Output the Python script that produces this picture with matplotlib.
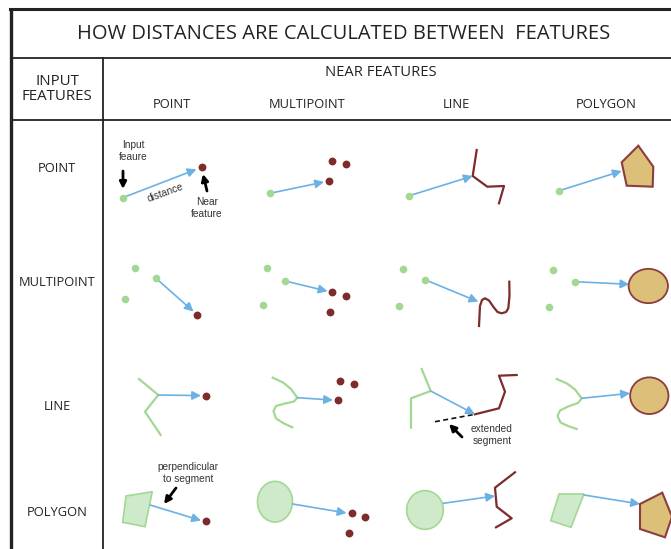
import matplotlib.pyplot as plt
from matplotlib.patches import Polygon, Ellipse

""" textos """
title = 'HOW DISTANCES ARE CALCULATED BETWEEN  FEATURES'
col_labels = ['POINT', 'MULTIPOINT', 'LINE', 'POLYGON']
row_labels = ['POINT', 'MULTIPOINT', 'LINE', 'POLYGON']
col_x = [172, 307, 456, 606]
row_y = [168, 282, 406, 512]

""" geometría (coordenadas en pixeles de la imagen) """
green_points = [(122.7, 197.7), (270, 193.3), (409.3, 195.7), (559.3, 190.7),
                (135, 267.7), (156, 278.3), (125, 299),
                (267.3, 268.3), (285.3, 281), (262.7, 305),
                (403.3, 269), (425, 279.7), (399, 305.7),
                (552.7, 270.3), (575, 281.7), (549, 307.3)]
red_points = [(201.7, 167.3), (329, 181), (331.7, 161), (345.7, 164.3),
              (197.3, 315), (332.3, 292.3), (346, 295.7), (329.7, 312.3),
              (206, 395.7), (340, 380.7), (354, 383.7), (337.7, 400.3),
              (206, 521), (351.7, 513.3), (365, 516.7), (349, 533.3)]
# flechas de distancia: (inicio, fin)
dist_arrows = [((122.7, 197.7), (196.5, 169.3)), ((270, 193.3), (324, 182)),
               ((409.3, 195.7), (472.7, 176)), ((559.3, 190.7), (621.7, 171)),
               ((156, 278.3), (193.5, 311.5)), ((285.3, 281), (327.5, 291.2)),
               ((425, 279.7), (478.3, 301.7)), ((575, 281.7), (629.3, 284.3)),
               ((158.3, 395), (201, 395.6)), ((297.3, 397.7), (333, 400.1)),
               ((430.7, 391), (475, 414.3)), ((581.7, 398.3), (630, 393.3)),
               ((150, 505), (201, 520.5)), ((292.7, 504), (346.5, 513)),
               ((443.3, 503.3), (495, 496)), ((584, 495), (640, 504))]
red_lines = [
    [(476.7, 150), (472.7, 176), (487.3, 186.7), (504, 186), (499, 203.3)],
    [(479, 326), (480, 306), (482, 300), (485, 298.3), (489, 300.5), (493.3, 306.7),
     (497.5, 312), (501.7, 313.3), (506, 312), (508.3, 308.3), (509.5, 296), (509.3, 281.7)],
    [(475, 414.3), (499, 408.3), (505, 391.7), (499, 375.7), (516.7, 375)],
    [(515, 472.3), (495, 487.7), (496.7, 506.7), (511.7, 518.3), (496, 527.3)],
]
green_lines = [
    [(139, 379), (158.3, 395), (145, 411.7), (160.7, 435)],
    [(272.7, 377.7), (283, 382.5), (291, 389), (297.3, 397.7), (294, 401.5), (285, 403.5),
     (276, 406), (273.5, 411), (276, 418.5), (284, 423.5), (292.3, 427.3)],
    [(421.7, 369), (430.7, 391), (411, 398.3), (411, 427.7)],
    [(556.7, 379), (567, 383.5), (575, 389.5), (581.7, 398.3), (578, 403), (568, 406.5),
     (560, 410.5), (557.5, 416), (560.5, 422.5), (568, 426), (576.7, 429)],
]
tan_polygons = [
    [(638.3, 145.7), (653.3, 166.7), (652.7, 186.7), (626.7, 185.7), (621.7, 162.3)],
    [(662.3, 492.7), (672, 516.7), (665, 537.3), (640, 529), (640, 504)],
]
tan_ellipses = [((648.3, 286), 39.3, 34.3), ((649.3, 395.7), 38.3, 36.7)]
green_polygons = [
    [(126, 496), (152.3, 491.7), (145, 526.7), (122.7, 522.3)],
    [(559, 494), (584, 494), (571, 527.3), (550.7, 520.7)],
]
green_ellipses = [((275, 501.7), 35, 40.7), ((425, 510), 36.7, 38.7)]
extended_segment = [(435, 421.7), (475, 414.3)]

# anotaciones: (texto, posición) y flechas negras (inicio, fin)
notes = [('Input\nfeaure', (133, 151)), ('Near\nfeature', (207, 208)),
         ('extended\nsegment', (492, 435)), ('perpendicular\nto segment', (188, 473))]
black_arrows = [((123, 171), (123, 189)), ((207, 191), (203, 174)),
                ((462, 437), (449, 424)), ((176, 488), (164, 504))]

""" colores """
c_green = '#a3d893'
c_green_fill = '#cfe9cb'
c_red = '#7d2b2b'
c_blue = '#6cb1e3'
c_tan = '#dcc07a'
c_edge = '#8e3c3c'
c_line = '#222222'

W, H = 671, 549
fig = plt.figure(figsize=(W / 100, H / 100), dpi=100)
ax = fig.add_axes([0, 0, 1, 1])
ax.set_xlim(0, W)
ax.set_ylim(H, 0)
ax.axis('off')

""" tabla """
ax.plot([10.5, 10.5], [8, H], color=c_line, lw=2.4, solid_capstyle='butt')
ax.plot([9.5, W], [8.5, 8.5], color=c_line, lw=2.2)
ax.plot([13, W], [58, 58], color=c_line, lw=1.3)
ax.plot([13, W], [120, 120], color=c_line, lw=1.3)
ax.plot([102.5, 102.5], [58, H], color=c_line, lw=1.3)

head_font = 'Open Sans'
ax.text(344, 34, title, ha='center', va='center', fontsize=14.5, family=head_font, color='#222222')
ax.text(57, 89, 'INPUT\nFEATURES', ha='center', va='center', fontsize=10.8, family=head_font,
        color='#222222', linespacing=1.05)
ax.text(381, 73, 'NEAR FEATURES', ha='center', va='center', fontsize=10.6, family=head_font, color='#222222')
for x, lab in zip(col_x, col_labels):
    ax.text(x, 104, lab, ha='center', va='center', fontsize=9.3, family=head_font, color='#222222')
for y, lab in zip(row_y, row_labels):
    ax.text(57, y, lab, ha='center', va='center', fontsize=9.3, family=head_font, color='#222222')

""" figuras """
for pts in green_polygons:
    ax.add_patch(Polygon(pts, closed=True, fc=c_green_fill, ec=c_green, lw=1.2, zorder=2))
for (c, w, h) in green_ellipses:
    ax.add_patch(Ellipse(c, w, h, fc=c_green_fill, ec=c_green, lw=1.2, zorder=2))
for pts in tan_polygons:
    ax.add_patch(Polygon(pts, closed=True, fc=c_tan, ec=c_edge, lw=1.5, zorder=2))
for (c, w, h) in tan_ellipses:
    ax.add_patch(Ellipse(c, w, h, fc=c_tan, ec=c_edge, lw=1.3, zorder=2))
for pts in green_lines:
    xs, ys = zip(*pts)
    ax.plot(xs, ys, color=c_green, lw=1.6, zorder=2, solid_joinstyle='round')
for pts in red_lines:
    xs, ys = zip(*pts)
    ax.plot(xs, ys, color=c_red, lw=1.6, zorder=2, solid_joinstyle='round')
xs, ys = zip(*extended_segment)
ax.plot(xs, ys, color='#111111', lw=1.2, ls=(0, (3, 2)), zorder=2)

xs, ys = zip(*green_points)
ax.scatter(xs, ys, s=30, color=c_green, zorder=4, linewidths=0)
xs, ys = zip(*red_points)
ax.scatter(xs, ys, s=32, color=c_red, zorder=4, linewidths=0)

for start, end in dist_arrows:
    ax.annotate('', xy=end, xytext=start,
                arrowprops=dict(arrowstyle='-|>', color=c_blue, lw=1.2, mutation_scale=13,
                                shrinkA=0, shrinkB=0), zorder=3)

for start, end in black_arrows:
    ax.annotate('', xy=end, xytext=start,
                arrowprops=dict(arrowstyle='-|>', color='black', lw=2, mutation_scale=10,
                                shrinkA=0, shrinkB=0), zorder=3)

for txt, (x, y) in notes:
    ax.text(x, y, txt, ha='center', va='center', fontsize=7.3, family='Liberation Sans',
            color='#333333', linespacing=1.15)
ax.text(165, 193, 'distance', ha='center', va='center', fontsize=7.3, family='Liberation Sans',
        color='#333333', rotation=20)

plt.savefig('out.png', dpi=100)
